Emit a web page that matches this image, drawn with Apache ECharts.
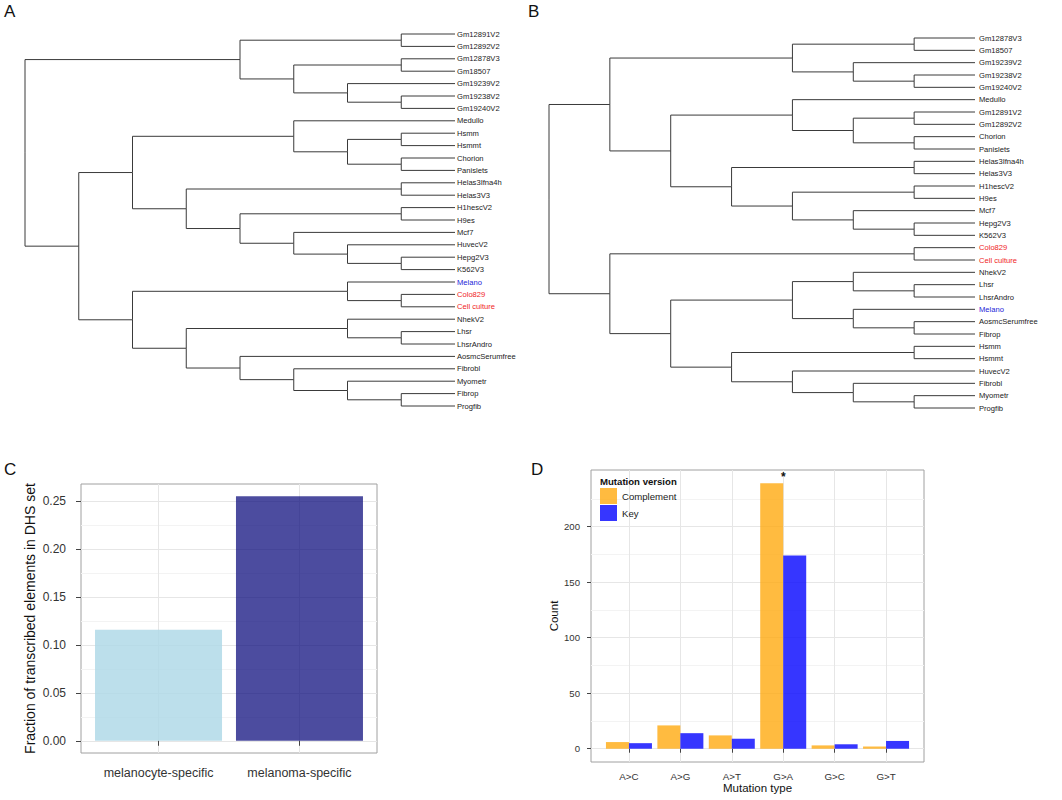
<!DOCTYPE html>
<html><head><meta charset="utf-8">
<script src="https://cdn.jsdelivr.net/npm/echarts@6/dist/echarts.min.js"></script>
<style>html,body{margin:0;padding:0;background:#fff}#main{width:1062px;height:800px}</style>
</head><body><div id="main"></div>
<script>
// ---------- DATA ----------
// Panel A dendrogram topology (nested pairs, leaves listed top -> bottom)
const treeA = [
  [["Gm12891V2","Gm12892V2"], [["Gm12878V3","Gm18507"], ["Gm19239V2", ["Gm19238V2","Gm19240V2"]]]],
  [
    [
      ["Medullo", [["Hsmm","Hsmmt"], ["Chorion","Panislets"]]],
      [["Helas3Ifna4h","Helas3V3"], [["H1hescV2","H9es"], ["Mcf7", ["HuvecV2", ["Hepg2V3","K562V3"]]]]]
    ],
    [
      ["Melano", ["Colo829","Cell culture"]],
      [["NhekV2", ["Lhsr","LhsrAndro"]], ["AosmcSerumfree", ["Fibrobl", ["Myometr", ["Fibrop","Progfib"]]]]]
    ]
  ]
];
// Panel B dendrogram topology
const treeB = [
  [
    [["Gm12878V3","Gm18507"], ["Gm19239V2", ["Gm19238V2","Gm19240V2"]]],
    [
      ["Medullo", [["Gm12891V2","Gm12892V2"], ["Chorion","Panislets"]]],
      [["Helas3Ifna4h","Helas3V3"], [["H1hescV2","H9es"], ["Mcf7", ["Hepg2V3","K562V3"]]]]
    ]
  ],
  [
    ["Colo829","Cell culture"],
    [
      [["NhekV2", ["Lhsr","LhsrAndro"]], ["Melano", ["AosmcSerumfree","Fibrop"]]],
      [["Hsmm","Hsmmt"], ["HuvecV2", ["Fibrobl", ["Myometr","Progfib"]]]]
    ]
  ]
];
const melanocyteLabels = ["Melano"];
const melanomaLabels = ["Colo829","Cell culture"];

// Panel C
const catsC = ["melanocyte-specific","melanoma-specific"];
const valsC = [0.116, 0.2555];
const ticksC = [0, 0.05, 0.10, 0.15, 0.20, 0.25];
const minorTicksC = [0.025, 0.075, 0.125, 0.175, 0.225];

// Panel D
const catsD = ["A>C","A>G","A>T","G>A","G>C","G>T"];
const complementD = [6, 21, 12, 239, 3, 2];
const keyD = [5, 14, 9, 174, 4, 7];
const ticksD = [0, 50, 100, 150, 200];
const minorTicksD = [25, 75, 125, 175, 225];
const starCategoryD = "G>A";

// ---------- LAYOUT HELPERS ----------
function layoutTree(tree) {
  const leaves = [], segs = [];
  const height = n => typeof n === 'string' ? 0 : 1 + Math.max(...n.map(height));
  const H = height(tree);
  function walk(n) {
    if (typeof n === 'string') { leaves.push(n); return {x: H, y: leaves.length - 1}; }
    const kids = n.map(walk);
    const x = H - height(n);
    const y = kids.reduce((s, k) => s + k.y, 0) / kids.length;
    kids.forEach(k => segs.push([x, y, k.x, k.y]));
    return {x, y};
  }
  walk(tree);
  return {leaves, segs, H};
}
const LA = layoutTree(treeA), LB = layoutTree(treeB);

const FONT = 'Liberation Sans, Arial, Helvetica, sans-serif';
function labelColor(v) {
  if (melanocyteLabels.includes(v)) return '#2424d8';
  if (melanomaLabels.includes(v)) return '#f01c1c';
  return '#222';
}
function dendroRender(params, api) {
  const p = api.coord([api.value(0), api.value(1)]);
  const c = api.coord([api.value(2), api.value(3)]);
  return {type: 'polyline', shape: {points: [p, [p[0], c[1]], c]},
          style: {stroke: '#3a3a3a', lineWidth: 1, fill: null}};
}

const maxC = Math.max(...valsC);
const maxD = Math.max(...complementD, ...keyD);
const gridLineColor = '#e6e6e6', minorColor = '#f3f3f3';
const letterStyle = {fontSize: 17, fontWeight: 'normal', color: '#111', fontFamily: FONT};

function minorAxis(gridIndex, min, max, ticks) {
  return {gridIndex, type: 'value', min, max, position: 'left',
    axisLine: {show: false}, axisTick: {show: false, customValues: ticks},
    axisLabel: {show: false, customValues: ticks},
    splitLine: {show: true, lineStyle: {color: minorColor, width: 1}}};
}

const option = {
  animation: false,
  backgroundColor: '#fff',
  textStyle: {fontFamily: FONT},
  title: [
    {text: 'A', left: 4, top: 3, padding: 0, textStyle: letterStyle},
    {text: 'B', left: 528, top: 3, padding: 0, textStyle: letterStyle},
    {text: 'C', left: 4, top: 461, padding: 0, textStyle: letterStyle},
    {text: 'D', left: 531, top: 461, padding: 0, textStyle: letterStyle},
    {text: 'Mutation version', left: 600, top: 476, padding: 0,
      textStyle: {fontSize: 9.6, fontWeight: 'bold', color: '#111', fontFamily: FONT}}
  ],
  grid: [
    {left: 25, top: 34, width: 430, height: 372},
    {left: 549, top: 38, width: 426, height: 370},
    {left: 81, top: 484, width: 296, height: 269, show: true, borderColor: '#a0a0a0', borderWidth: 1, backgroundColor: 'transparent'},
    {left: 591, top: 470, width: 333, height: 292, show: true, borderColor: '#a0a0a0', borderWidth: 1, backgroundColor: 'transparent'}
  ],
  xAxis: [
    {gridIndex: 0, type: 'value', min: 0, max: LA.H, show: false},
    {gridIndex: 1, type: 'value', min: 0, max: LB.H, show: false},
    {gridIndex: 2, type: 'value', min: 0.45, max: 2.55,
      axisLine: {show: false},
      axisTick: {show: true, length: 5, lineStyle: {color: '#444'}, customValues: catsC.map((c, i) => i + 1)},
      axisLabel: {customValues: catsC.map((c, i) => i + 1), formatter: v => catsC[Math.round(v) - 1] || '',
        fontSize: 12.5, color: '#333', margin: 13, fontFamily: FONT},
      splitLine: {show: true, lineStyle: {color: gridLineColor, width: 1}}},
    {gridIndex: 3, type: 'value', min: 0.262, max: 6.738,
      name: 'Mutation type', nameLocation: 'middle', nameGap: 19,
      nameTextStyle: {fontSize: 11.5, color: '#111', fontFamily: FONT},
      axisLine: {show: false},
      axisTick: {show: true, length: 4, lineStyle: {color: '#444'}, customValues: catsD.map((c, i) => i + 1)},
      axisLabel: {customValues: catsD.map((c, i) => i + 1), formatter: v => catsD[Math.round(v) - 1] || '',
        fontSize: 9.8, color: '#333', margin: 9, fontFamily: FONT},
      splitLine: {show: true, lineStyle: {color: gridLineColor, width: 1}}}
  ],
  yAxis: [
    {gridIndex: 0, type: 'value', min: 0, max: LA.leaves.length - 1, inverse: true, show: false},
    {gridIndex: 0, type: 'category', data: LA.leaves, inverse: true, boundaryGap: false, position: 'right',
      axisLine: {show: false}, axisTick: {show: false}, splitLine: {show: false},
      axisLabel: {interval: 0, margin: 2, fontSize: 7.6, fontFamily: FONT, color: labelColor}},
    {gridIndex: 1, type: 'value', min: 0, max: LB.leaves.length - 1, inverse: true, show: false},
    {gridIndex: 1, type: 'category', data: LB.leaves, inverse: true, boundaryGap: false, position: 'right',
      axisLine: {show: false}, axisTick: {show: false}, splitLine: {show: false},
      axisLabel: {interval: 0, margin: 4, fontSize: 7.6, fontFamily: FONT, color: labelColor}},
    {gridIndex: 2, type: 'value', min: -0.05 * maxC, max: 1.05 * maxC,
      name: 'Fraction of transcribed elements in DHS set', nameLocation: 'middle', nameGap: 44, nameRotate: 90,
      nameTextStyle: {fontSize: 14, color: '#111', fontFamily: FONT},
      axisLine: {show: false},
      axisTick: {show: true, length: 5, lineStyle: {color: '#444'}, customValues: ticksC},
      axisLabel: {customValues: ticksC, formatter: v => v.toFixed(2), fontSize: 12, color: '#333', margin: 15, fontFamily: FONT},
      splitLine: {show: true, lineStyle: {color: gridLineColor, width: 1}}},
    {gridIndex: 3, type: 'value', min: -0.05 * maxD, max: 1.05 * maxD,
      name: 'Count', nameLocation: 'middle', nameGap: 29, nameRotate: 90,
      nameTextStyle: {fontSize: 11.5, color: '#111', fontFamily: FONT},
      axisLine: {show: false},
      axisTick: {show: true, length: 4, lineStyle: {color: '#444'}, customValues: ticksD},
      axisLabel: {customValues: ticksD, formatter: v => String(v), fontSize: 9.6, color: '#333', margin: 11, fontFamily: FONT},
      splitLine: {show: true, lineStyle: {color: gridLineColor, width: 1}}},
    minorAxis(2, -0.05 * maxC, 1.05 * maxC, minorTicksC),
    minorAxis(3, -0.05 * maxD, 1.05 * maxD, minorTicksD)
  ],
  legend: {
    data: ['Complement', 'Key'], orient: 'vertical', left: 600, top: 488, padding: 0,
    itemWidth: 17, itemHeight: 16, itemGap: 1, icon: 'rect', selectedMode: false,
    textStyle: {fontSize: 9.6, color: '#222', fontFamily: FONT}
  },
  series: [
    {type: 'custom', name: 'treeA', xAxisIndex: 0, yAxisIndex: 0, renderItem: dendroRender,
      data: LA.segs, encode: {x: [0, 2], y: [1, 3]}, silent: true},
    {type: 'custom', name: 'treeB', xAxisIndex: 1, yAxisIndex: 2, renderItem: dendroRender,
      data: LB.segs, encode: {x: [0, 2], y: [1, 3]}, silent: true},
    {type: 'bar', name: 'C', xAxisIndex: 2, yAxisIndex: 4, barWidth: 127, z: 2,
      data: valsC.map((v, i) => ({value: [i + 1, v],
        itemStyle: {color: i === 0 ? 'rgba(173,216,230,0.82)' : 'rgba(0,0,118,0.70)'}}))},
    {type: 'bar', name: 'Complement', xAxisIndex: 3, yAxisIndex: 5, barWidth: 23, barGap: '0%', z: 2,
      itemStyle: {color: 'rgba(255,168,10,0.78)'},
      data: complementD.map((v, i) => catsD[i] === starCategoryD
        ? {value: [i + 1, v], label: {show: true, position: 'top', formatter: '*', offset: [11.5, 5],
            fontSize: 12, fontWeight: 'bold', color: '#111', fontFamily: FONT}}
        : {value: [i + 1, v]})},
    {type: 'bar', name: 'Key', xAxisIndex: 3, yAxisIndex: 5, barWidth: 23, barGap: '0%', z: 2,
      itemStyle: {color: 'rgba(10,10,255,0.82)'},
      data: keyD.map((v, i) => [i + 1, v])}
  ]
};
const chart = echarts.init(document.getElementById('main'), null, {renderer: 'svg'});
chart.setOption(option);
</script></body></html>
